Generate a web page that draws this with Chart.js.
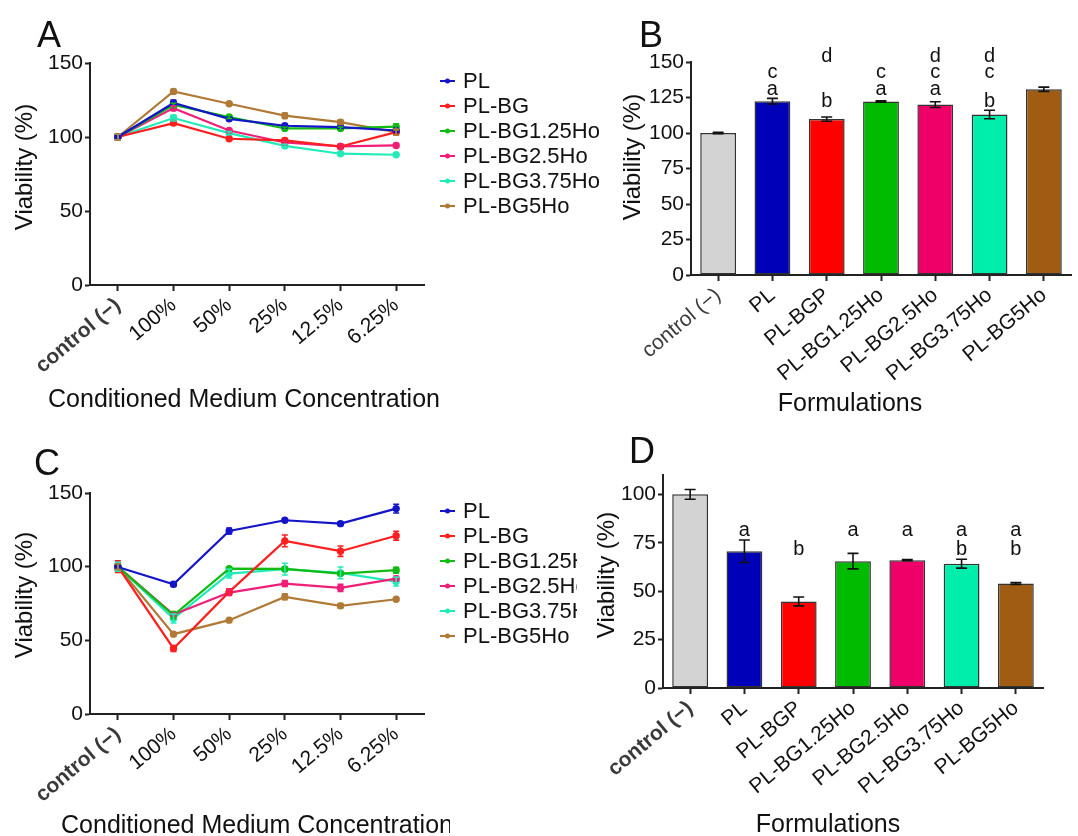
<!DOCTYPE html>
<html><head><meta charset="utf-8">
<script src="https://cdn.jsdelivr.net/npm/chart.js@4"></script>
<style>
html,body{margin:0;padding:0;background:#fff;}
body{width:1078px;height:836px;position:relative;overflow:hidden;}
canvas{position:absolute;}
</style></head><body>
<canvas id="cA" width="605" height="420" style="left:0;top:0"></canvas>
<canvas id="cB" width="473" height="420" style="left:605px;top:0"></canvas>
<canvas id="cC" width="577" height="416" style="left:0;top:420px"></canvas>
<canvas id="cD" width="501" height="416" style="left:577px;top:420px"></canvas>
<script>
// ---------- data ----------
const concLabels = ['control (−)', '100%', '50%', '25%', '12.5%', '6.25%'];
const seriesNames = ['PL', 'PL-BG', 'PL-BG1.25Ho', 'PL-BG2.5Ho', 'PL-BG3.75Ho', 'PL-BG5Ho'];
const formLabels = ['control (−)', 'PL', 'PL-BGP', 'PL-BG1.25Ho', 'PL-BG2.5Ho', 'PL-BG3.75Ho', 'PL-BG5Ho'];

// y tick values
const lineTicks = [0, 50, 100, 150];
const bTicks = [0, 25, 50, 75, 100, 125, 150];
const dTicks = [0, 25, 50, 75, 100];

// Panel A (line): viability vs concentration
const aPL      = [100, 123.0, 112.3, 107.6, 106.7, 104.4];
const aPLBG    = [100, 109.4, 98.8, 97.7, 93.6, 103.3];
const aBG125   = [100, 121.6, 113.5, 105.8, 105.8, 107.0];
const aBG25    = [100, 119.5, 104.4, 96.3, 93.6, 94.3];
const aBG375   = [100, 112.8, 102.6, 94.0, 88.7, 88.0];
const aBG5     = [100, 130.8, 122.5, 114.4, 110.0, 103.3];
const aPLErr    = [2, 2, 1.2, 1, 1, 1];
const aPLBGErr  = [2, 1.2, 1, 1.2, 1.2, 1.5];
const aBG125Err = [2, 1.2, 1, 1, 1, 2];
const aBG25Err  = [2, 1.5, 1, 1, 1.5, 1.2];
const aBG375Err = [2, 2, 1, 1, 1, 1];
const aBG5Err   = [2.2, 1.5, 1, 1.8, 1.5, 2];

// Panel B (bar)
const bValues = [100, 122.4, 109.8, 122.2, 120.0, 113.0, 130.8];
const bErrors = [0.5, 2, 1.5, 0.5, 2, 3, 1.5];
const bLetters = [[], ['a', 'c'], ['b', 'd'], ['a', 'c'], ['a', 'c', 'd'], ['b', 'c', 'd'], []];

// Panel C (line)
const cPL      = [99.8, 88.1, 124.2, 131.5, 129.2, 139.4];
const cPLBG    = [100, 44.5, 82.9, 117.5, 110.5, 121.0];
const cBG125   = [100, 67.0, 98.7, 98.5, 95.3, 97.6];
const cBG25    = [100, 67.5, 82.4, 88.5, 85.6, 91.9];
const cBG375   = [100, 64.8, 95.3, 98.3, 95.8, 89.9];
const cBG5     = [100, 54.2, 63.7, 79.5, 73.4, 77.9];
const cPLErr    = [2, 1.5, 2, 1, 1, 3];
const cPLBGErr  = [4, 2, 2, 4, 3.5, 3];
const cBG125Err = [2, 2.5, 1, 1, 1, 2];
const cBG25Err  = [3, 1, 2, 2, 2.5, 1.5];
const cBG375Err = [3, 3, 3, 4, 4, 3];
const cBG5Err   = [2, 1, 1, 2, 1.5, 1];

// Panel D (bar)
const dValues = [100, 70.6, 44.7, 65.5, 66.0, 64.2, 54.0];
const dErrors = [2.5, 5.8, 2.3, 4, 0.3, 2.3, 0.5];
const dLetters = [[], ['a'], ['b'], ['a'], ['a'], ['a', 'b'], ['a', 'b']];

// ---------- styles ----------
const FONT = '"Liberation Sans", Arial, Helvetica, sans-serif';
const lineColors = ['#1414c8', '#ff1e1e', '#12bb12', '#f01e78', '#22ebb8', '#b07a36'];
const barColors = ['#d3d3d3', '#0000b8', '#ff0000', '#00bb00', '#ee0068', '#00eeab', '#a05c12'];
const AX = '#222';
Chart.defaults.font.family = FONT;
Chart.defaults.color = '#111';

// ---------- plugins ----------
const errBars = {
  id: 'errBars',
  afterDatasetsDraw(chart, args, o) {
    const ctx = chart.ctx, ys = chart.scales.y;
    ctx.save();
    chart.data.datasets.forEach((ds, di) => {
      if (!ds.errors) return;
      const meta = chart.getDatasetMeta(di);
      ctx.strokeStyle = o.color || ds.borderColor;
      ctx.lineWidth = o.lineWidth;
      meta.data.forEach((el, i) => {
        const v = ds.data[i], e = ds.errors[i];
        const x = el.x, y1 = ys.getPixelForValue(v + e), y2 = ys.getPixelForValue(v - e);
        const hw = o.cap / 2;
        ctx.beginPath();
        ctx.moveTo(x, y1); ctx.lineTo(x, y2);
        ctx.moveTo(x - hw, y1); ctx.lineTo(x + hw, y1);
        ctx.moveTo(x - hw, y2); ctx.lineTo(x + hw, y2);
        ctx.stroke();
      });
    });
    ctx.restore();
  }
};

const sigLetters = {
  id: 'sigLetters',
  afterDraw(chart, args, o) {
    if (!o.sets) return;
    const ctx = chart.ctx, xs = chart.scales.x, ys = chart.scales.y;
    ctx.save();
    ctx.font = o.size + 'px ' + FONT;
    ctx.fillStyle = '#111';
    ctx.textAlign = 'center';
    ctx.textBaseline = 'middle';
    o.sets.forEach((letters, i) => {
      letters.forEach(L => {
        ctx.fillText(L, xs.getPixelForValue(i), ys.getPixelForValue(o.levels[L]));
      });
    });
    ctx.restore();
  }
};

const seriesKey = {
  id: 'seriesKey',
  afterDraw(chart, args, o) {
    if (!o.show) return;
    const ctx = chart.ctx, ca = chart.chartArea;
    ctx.save();
    ctx.font = o.size + 'px ' + FONT;
    ctx.textBaseline = 'middle';
    ctx.textAlign = 'left';
    chart.data.datasets.forEach((ds, i) => {
      const y = ca.top + o.dy + i * o.step;
      const x0 = ca.right + o.dx;
      ctx.strokeStyle = ds.borderColor; ctx.fillStyle = ds.borderColor;
      ctx.lineWidth = 2;
      ctx.beginPath(); ctx.moveTo(x0, y); ctx.lineTo(x0 + 15, y); ctx.stroke();
      ctx.beginPath(); ctx.arc(x0 + 7.5, y, 2.5, 0, Math.PI * 2); ctx.fill();
      ctx.fillStyle = '#111';
      ctx.fillText(ds.label, x0 + 23, y + 1);
    });
    ctx.restore();
  }
};

const panelText = {
  id: 'panelText',
  afterDraw(chart, args, o) {
    const ctx = chart.ctx;
    ctx.save();
    ctx.fillStyle = '#111';
    ctx.font = '36px ' + FONT;
    ctx.textAlign = 'left'; ctx.textBaseline = 'alphabetic';
    ctx.fillText(o.letter, o.letterX, o.letterY);
    ctx.font = '25px ' + FONT;
    ctx.textAlign = 'center'; ctx.textBaseline = 'middle';
    ctx.save();
    if (o.xTitleClip) {
      ctx.beginPath();
      ctx.rect(0, o.xTitleY - 20, o.xTitleClip, 40);
      ctx.clip();
    }
    ctx.fillText(o.xTitle, o.xTitleX, o.xTitleY);
    ctx.restore();
    ctx.font = '24px ' + FONT;
    ctx.translate(o.yTitleX, o.yTitleY);
    ctx.rotate(-Math.PI / 2);
    ctx.fillText(o.yTitle, 0, 0);
    ctx.restore();
  }
};

// ---------- builders ----------
function scales(geo, yMax, yTickList, boldFirst) {
  return {
    x: {
      type: 'category',
      offset: true,
      afterFit: s => { s.height = geo.H - geo.bottom; },
      border: { display: true, color: AX, width: 2 },
      grid: { display: true, drawOnChartArea: false, offset: false, tickLength: 6, tickWidth: 2, tickColor: AX },
      ticks: {
        minRotation: 40, maxRotation: 40, autoSkip: false, padding: 2,
        color: c => c.index === 0 ? '#3a3a3a' : '#111',
        font: c => ({ size: 21, family: FONT, weight: (c.index === 0 && boldFirst) ? 'bold' : 'normal' })
      }
    },
    y: {
      min: 0, max: yMax,
      afterFit: s => { s.width = geo.left; },
      afterBuildTicks: s => { s.ticks = yTickList.map(v => ({ value: v })); },
      border: { display: true, color: AX, width: 2 },
      grid: { display: true, drawOnChartArea: false, tickLength: 5, tickWidth: 2, tickColor: AX },
      ticks: { padding: 2, font: { size: 21 }, color: '#111' }
    }
  };
}

function lineChart(id, geo, arrays, errs, text) {
  const datasets = seriesNames.map((n, i) => ({
    label: n, data: arrays[i], errors: errs[i],
    borderColor: lineColors[i], backgroundColor: lineColors[i],
    borderWidth: 2.2, pointRadius: 2.6, pointHoverRadius: 0, tension: 0
  }));
  return new Chart(document.getElementById(id), {
    type: 'line',
    data: { labels: concLabels, datasets },
    options: {
      responsive: false, maintainAspectRatio: false, animation: false, devicePixelRatio: 1,
      layout: { padding: { left: 0, top: geo.top, right: geo.W - geo.right, bottom: 0 } },
      scales: scales(geo, 150, lineTicks, true),
      plugins: {
        legend: { display: false }, tooltip: { enabled: false },
        errBars: { cap: 6, lineWidth: 1.6 },
        seriesKey: { show: true, dx: 16, dy: 18, step: 25, size: 22 },
        panelText: text
      }
    },
    plugins: [errBars, seriesKey, panelText]
  });
}

function barChart(id, geo, values, errors, letters, levels, yMax, yTickList, boldFirst, text) {
  return new Chart(document.getElementById(id), {
    type: 'bar',
    data: {
      labels: formLabels,
      datasets: [{
        data: values, errors: errors,
        backgroundColor: barColors, borderColor: '#333', borderWidth: 1.5, borderSkipped: false,
        categoryPercentage: 1, barPercentage: 0.66
      }]
    },
    options: {
      responsive: false, maintainAspectRatio: false, animation: false, devicePixelRatio: 1,
      layout: { padding: { left: 0, top: geo.top, right: geo.W - geo.right, bottom: 0 } },
      scales: scales(geo, yMax, yTickList, boldFirst),
      plugins: {
        legend: { display: false }, tooltip: { enabled: false },
        errBars: { cap: 11, lineWidth: 1.6, color: '#111' },
        sigLetters: { sets: letters, levels: levels, size: 20 },
        seriesKey: { show: false },
        panelText: text
      }
    },
    plugins: [errBars, sigLetters, panelText]
  });
}

// ---------- charts ----------
lineChart('cA', { W: 605, H: 420, left: 90, top: 63, right: 424, bottom: 285 },
  [aPL, aPLBG, aBG125, aBG25, aBG375, aBG5],
  [aPLErr, aPLBGErr, aBG125Err, aBG25Err, aBG375Err, aBG5Err],
  { letter: 'A', letterX: 37, letterY: 47, yTitle: 'Viability (%)', yTitleX: 25, yTitleY: 167,
    xTitle: 'Conditioned Medium Concentration', xTitleX: 244, xTitleY: 400 });

barChart('cB', { W: 473, H: 420, left: 86, top: 62, right: 466, bottom: 275 },
  bValues, bErrors, bLetters, { a: 130.8, b: 122, c: 142.5, d: 154 }, 150, bTicks, false,
  { letter: 'B', letterX: 34, letterY: 47, yTitle: 'Viability (%)', yTitleX: 28, yTitleY: 157,
    xTitle: 'Formulations', xTitleX: 245, xTitleY: 404 });

lineChart('cC', { W: 577, H: 416, left: 90, top: 73, right: 424, bottom: 294 },
  [cPL, cPLBG, cBG125, cBG25, cBG375, cBG5],
  [cPLErr, cPLBGErr, cBG125Err, cBG25Err, cBG375Err, cBG5Err],
  { letter: 'C', letterX: 34, letterY: 55, yTitle: 'Viability (%)', yTitleX: 25, yTitleY: 175,
    xTitle: 'Conditioned Medium Concentration', xTitleX: 257, xTitleY: 406, xTitleClip: 450 });

barChart('cD', { W: 501, H: 416, left: 86, top: 55, right: 466, bottom: 268 },
  dValues, dErrors, dLetters, { a: 81.2, b: 71.7 }, 110, dTicks, true,
  { letter: 'D', letterX: 52, letterY: 43, yTitle: 'Viability (%)', yTitleX: 30, yTitleY: 155,
    xTitle: 'Formulations', xTitleX: 251, xTitleY: 405 });
</script>
</body></html>
